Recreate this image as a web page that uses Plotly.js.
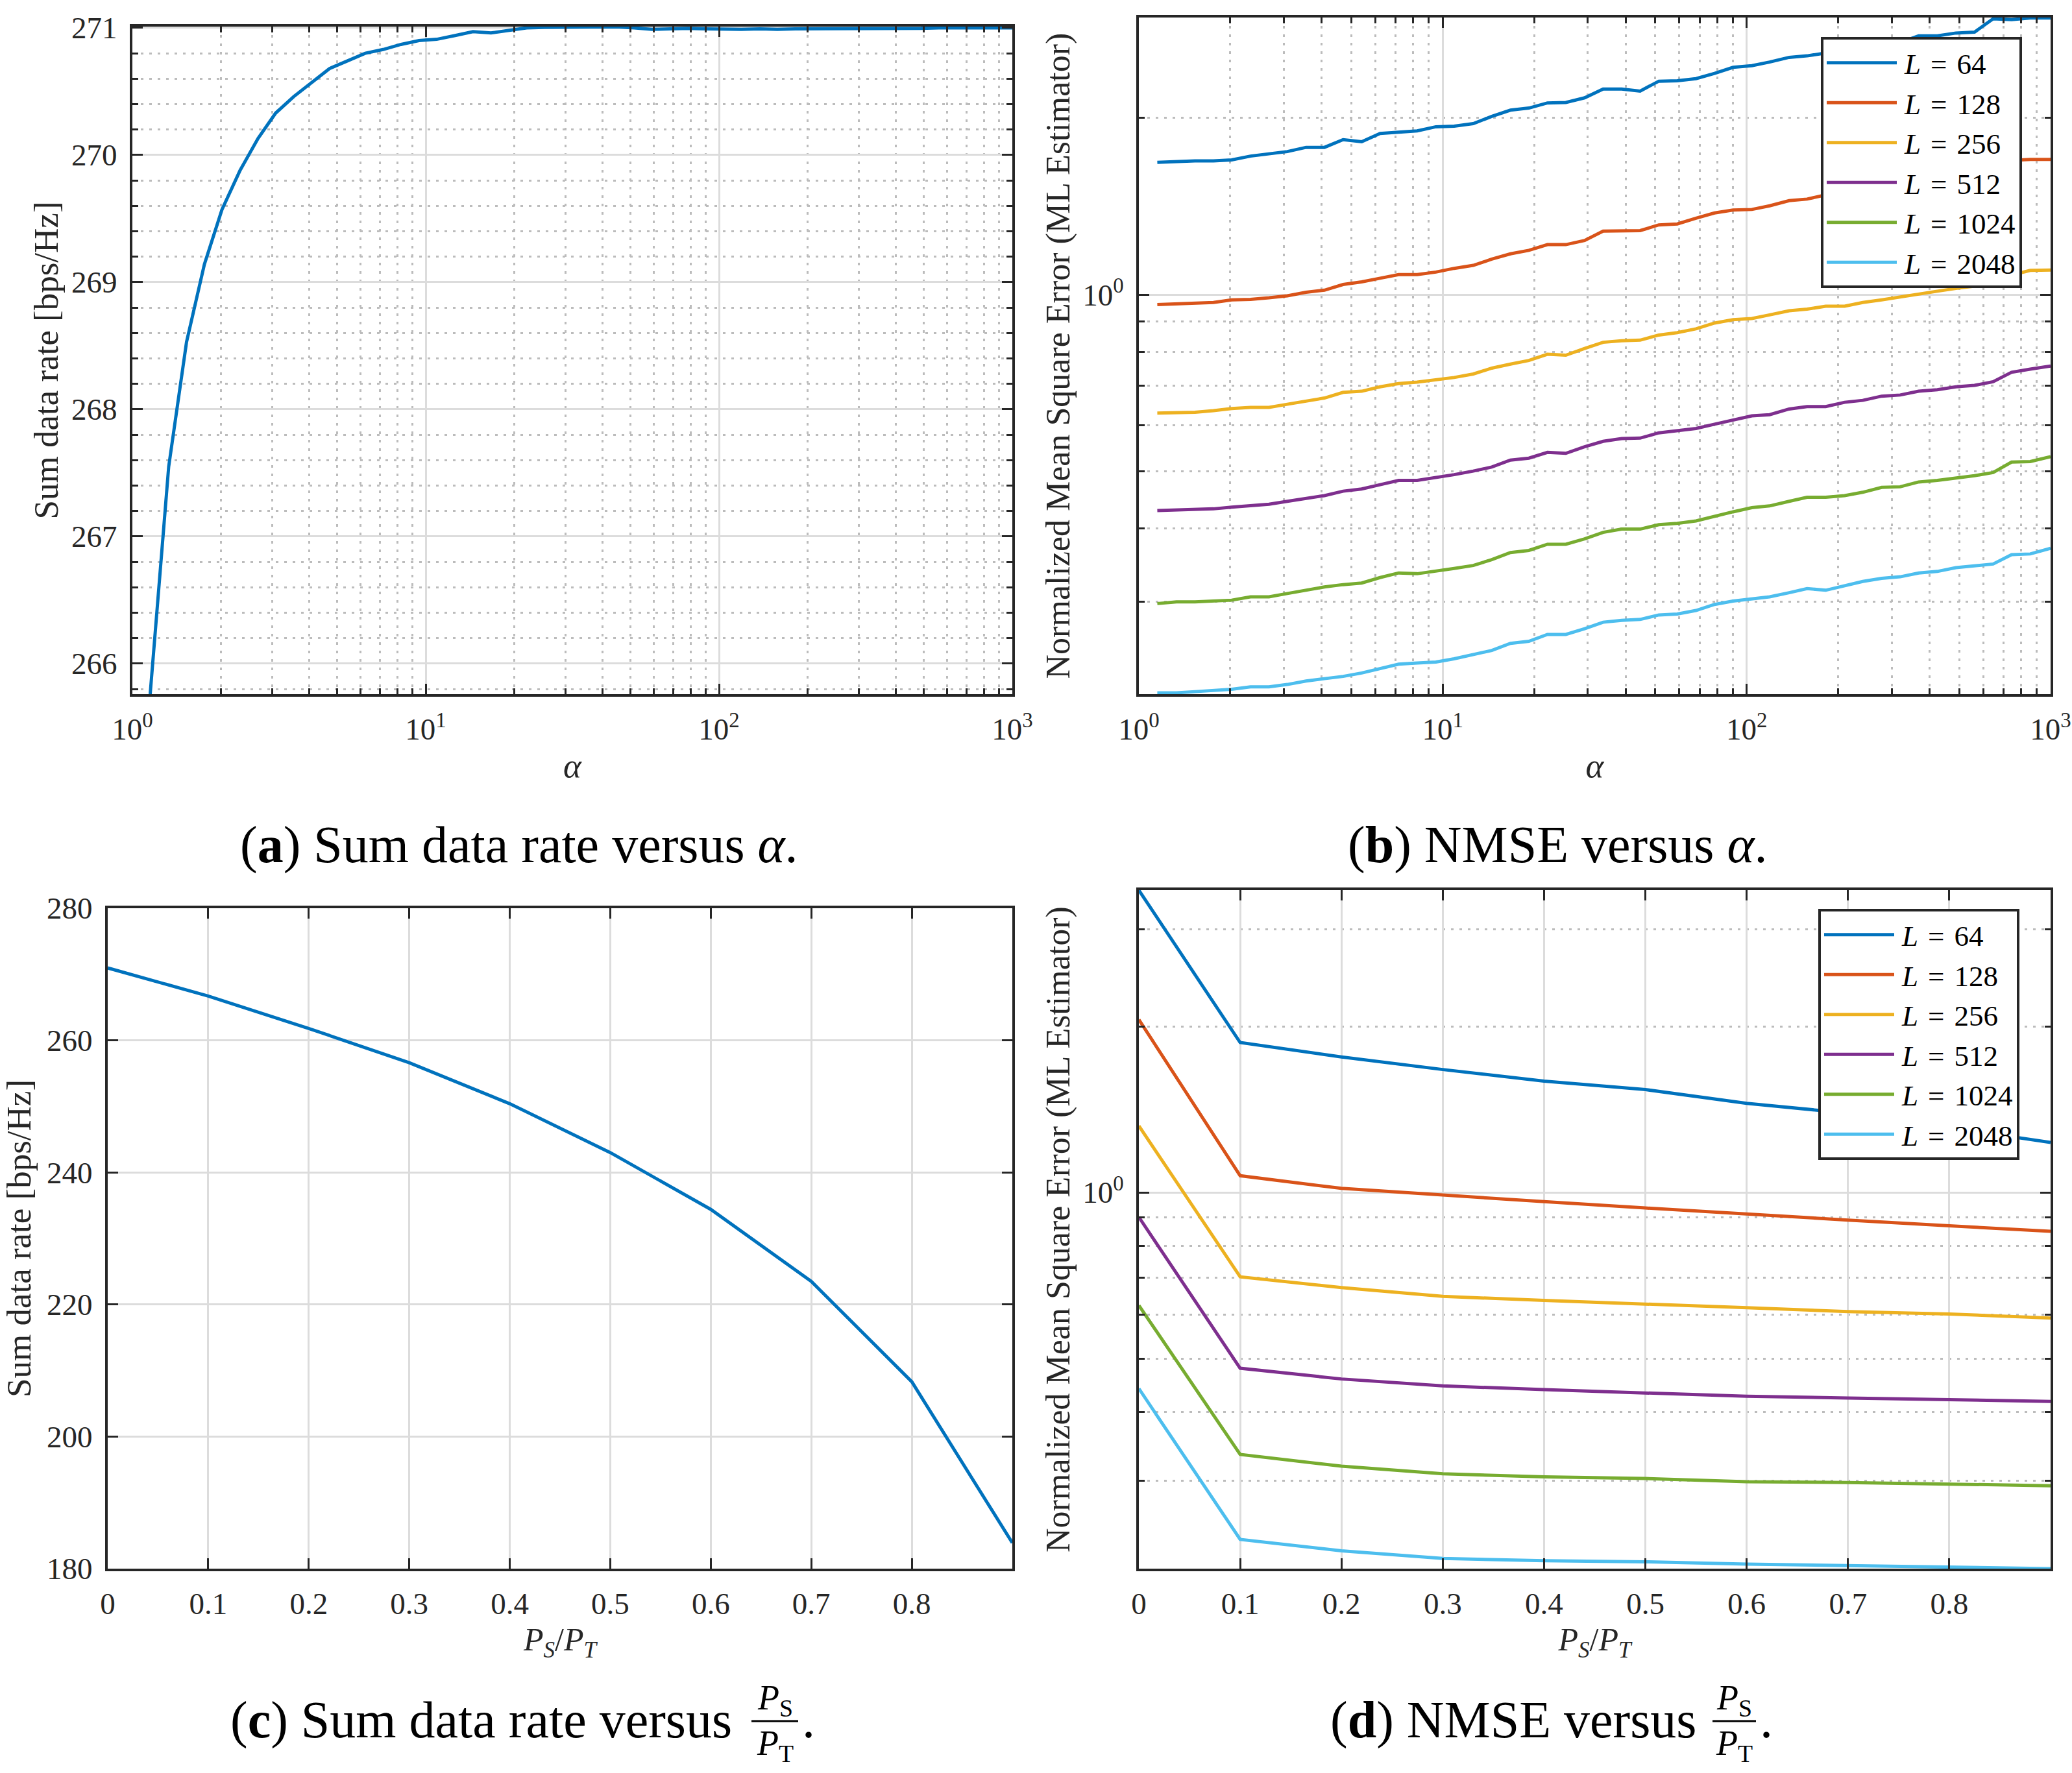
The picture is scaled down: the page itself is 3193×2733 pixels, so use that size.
<html>
<head>
<meta charset="utf-8">
<script src="https://cdn.plot.ly/plotly-3.0.1.min.js"></script>
<style>
    body { margin: 0; background: #fff; }
    #fig { width: 3193px; height: 2733px; }
</style>
</head>
<body>
<div id="fig"></div>
<script>
// ---- data ----
// (a) and (b): x = alpha (log axis)
var alpha = [1.15, 1.33, 1.53, 1.76, 2.02, 2.33, 2.68, 3.08, 3.55, 4.08,
             4.70, 5.41, 6.22, 7.16, 8.24, 9.49, 10.9, 12.6, 14.5, 16.7,
             19.2, 22.1, 25.4, 29.3, 33.7, 38.8, 44.6, 51.4, 59.1, 68.1,
             78.4, 90.2, 104, 119, 138, 158, 182, 210, 241, 278,
             320, 368, 424, 488, 562, 647, 744, 857, 1000];

var rateAlpha = [265.76, 267.55, 268.53, 269.14, 269.57, 269.88, 270.13, 270.33, 270.46, 270.57,
                 270.68, 270.74, 270.80, 270.83, 270.87, 270.90, 270.91, 270.94, 270.97, 270.96,
                 270.98, 271.00, 271.004, 271.004, 271.004, 271.008, 271.008, 271.00, 270.988, 270.992,
                 270.996, 270.992, 270.988, 270.988, 270.992, 270.988, 270.992, 270.992, 270.992, 270.992,
                 270.996, 270.996, 270.992, 270.996, 271.00, 271.00, 271.00, 271.00, 271.00];

var nmseA64 = [1.680, 1.687, 1.690, 1.690, 1.697, 1.722, 1.739, 1.753, 1.782, 1.782,
               1.837, 1.822, 1.882, 1.890, 1.901, 1.932, 1.936, 1.956, 2.012, 2.062,
               2.079, 2.121, 2.125, 2.164, 2.240, 2.240, 2.222, 2.310, 2.314, 2.333,
               2.381, 2.439, 2.455, 2.490, 2.536, 2.551, 2.58, 2.60, 2.64, 2.66,
               2.69, 2.76, 2.76, 2.79, 2.80, 2.95, 2.94, 2.96, 2.96];
var nmseA128 = [0.962, 0.964, 0.966, 0.970, 0.980, 0.982, 0.988, 0.996, 1.010, 1.018,
                1.041, 1.052, 1.067, 1.082, 1.082, 1.093, 1.109, 1.122, 1.150, 1.174,
                1.190, 1.217, 1.217, 1.237, 1.283, 1.286, 1.286, 1.315, 1.320, 1.350,
                1.378, 1.394, 1.397, 1.417, 1.446, 1.455, 1.479, 1.509, 1.524, 1.556,
                1.571, 1.594, 1.604, 1.620, 1.637, 1.687, 1.694, 1.700, 1.700];
var nmseA256 = [0.629, 0.630, 0.631, 0.635, 0.640, 0.643, 0.643, 0.651, 0.659, 0.667,
                0.682, 0.685, 0.697, 0.706, 0.710, 0.717, 0.723, 0.733, 0.750, 0.762,
                0.773, 0.792, 0.789, 0.810, 0.830, 0.835, 0.837, 0.854, 0.862, 0.875,
                0.895, 0.907, 0.911, 0.924, 0.939, 0.945, 0.956, 0.956, 0.970, 0.980,
                0.992, 1.002, 1.014, 1.025, 1.035, 1.044, 1.080, 1.100, 1.102];
var nmseA512 = [0.429, 0.430, 0.431, 0.432, 0.435, 0.438, 0.440, 0.445, 0.450, 0.455,
                0.463, 0.467, 0.475, 0.483, 0.483, 0.488, 0.494, 0.501, 0.509, 0.523,
                0.527, 0.539, 0.537, 0.551, 0.563, 0.569, 0.570, 0.582, 0.587, 0.592,
                0.602, 0.612, 0.622, 0.625, 0.639, 0.645, 0.645, 0.656, 0.661, 0.672,
                0.675, 0.685, 0.689, 0.697, 0.701, 0.711, 0.738, 0.747, 0.756];
var nmseA1024 = [0.298, 0.300, 0.300, 0.301, 0.302, 0.306, 0.306, 0.310, 0.314, 0.318,
                 0.321, 0.323, 0.330, 0.336, 0.335, 0.338, 0.342, 0.346, 0.354, 0.364,
                 0.367, 0.376, 0.376, 0.384, 0.394, 0.399, 0.399, 0.406, 0.408, 0.412,
                 0.420, 0.427, 0.434, 0.437, 0.445, 0.452, 0.452, 0.455, 0.461, 0.470,
                 0.471, 0.480, 0.483, 0.487, 0.492, 0.498, 0.519, 0.520, 0.530];
var nmseA2048 = [0.210, 0.210, 0.211, 0.212, 0.213, 0.215, 0.215, 0.217, 0.220, 0.222,
                 0.224, 0.227, 0.231, 0.235, 0.236, 0.237, 0.240, 0.244, 0.248, 0.255,
                 0.257, 0.264, 0.264, 0.270, 0.277, 0.279, 0.280, 0.285, 0.286, 0.290,
                 0.297, 0.301, 0.304, 0.306, 0.311, 0.316, 0.314, 0.320, 0.325, 0.329,
                 0.331, 0.336, 0.338, 0.343, 0.346, 0.348, 0.361, 0.362, 0.370];

// (c) and (d): x = P_S / P_T
var ratio = [0, 0.1, 0.2, 0.3, 0.4, 0.5, 0.6, 0.7, 0.8, 0.9];
var rateRatio = [270.96, 266.7, 261.8, 256.6, 250.4, 243.0, 234.4, 223.5, 208.3, 183.9];
var nmseR64 = [3.53, 1.869, 1.760, 1.670, 1.591, 1.536, 1.450, 1.392, 1.311, 1.232];
var nmseR128 = [2.057, 1.072, 1.017, 0.988, 0.962, 0.937, 0.913, 0.891, 0.870, 0.850];
var nmseR256 = [1.320, 0.703, 0.672, 0.648, 0.637, 0.628, 0.618, 0.608, 0.602, 0.592];
var nmseR512 = [0.902, 0.480, 0.459, 0.446, 0.439, 0.433, 0.427, 0.424, 0.421, 0.418];
var nmseR1024 = [0.624, 0.335, 0.319, 0.309, 0.305, 0.303, 0.299, 0.298, 0.296, 0.294];
var nmseR2048 = [0.441, 0.235, 0.224, 0.217, 0.215, 0.214, 0.212, 0.2106, 0.2096, 0.208];

var pilotL = [64, 128, 256, 512, 1024, 2048];

// ticks
var alphaTicks = [1, 10, 100, 1000];
var alphaTickText = ['10<sup>0</sup>', '10<sup>1</sup>', '10<sup>2</sup>', '10<sup>3</sup>'];
var alphaMinor = [2, 3, 4, 5, 6, 7, 8, 9, 20, 30, 40, 50, 60, 70, 80, 90, 200, 300, 400, 500, 600, 700, 800, 900];
var rateAlphaTicks = [266, 267, 268, 269, 270, 271];
var nmseTicks = [1];
var nmseTickText = ['10<sup>0</sup>'];
var nmseMinor = [0.3, 0.4, 0.5, 0.6, 0.7, 0.8, 0.9, 2, 3];
var ratioTicks = [0, 0.1, 0.2, 0.3, 0.4, 0.5, 0.6, 0.7, 0.8];
var rateRatioTicks = [180, 200, 220, 240, 260, 280];

// ---- style ----
var W = 3193, H = 2733;
function px(x) { return x / W; }
function py(y) { return 1 - y / H; }

var FONT = '"Liberation Serif", serif';
var INK = '#262626';
var colors = ['#0072BD', '#D95319', '#EDB120', '#7E2F8E', '#77AC30', '#4DBEEE'];

function axis(o) {
    var a = {
        showline: true, linecolor: INK, linewidth: 4, mirror: 'allticks',
        ticks: 'inside', ticklen: 16, tickwidth: 3, tickcolor: INK,
        tickfont: {family: FONT, size: 47, color: INK},
        ticklabelstandoff: 10,
        showgrid: true, gridcolor: '#dcdcdc', gridwidth: 3, zeroline: false
    };
    for (var k in o) a[k] = o[k];
    return a;
}
function minor(o) {
    var m = {showgrid: true, gridcolor: '#bcbcbc', gridwidth: 3, griddash: '4px,9px',
             ticks: 'inside', ticklen: 9, tickwidth: 3, tickcolor: INK};
    for (var k in o) m[k] = o[k];
    return m;
}
function axTitle(text, standoff, size) {
    return {text: text, standoff: standoff, font: {family: FONT, size: size || 53, color: INK}};
}

// ---- traces ----
var legendName = function (n) { return '<i>L</i>\u2004=\u2004' + n; };
var data = [];
data.push({x: alpha, y: rateAlpha, xaxis: 'x', yaxis: 'y', mode: 'lines',
           line: {color: colors[0], width: 5}, showlegend: false});
[nmseA64, nmseA128, nmseA256, nmseA512, nmseA1024, nmseA2048].forEach(function (s, i) {
    data.push({x: alpha, y: s, xaxis: 'x2', yaxis: 'y2', mode: 'lines', legend: 'legend',
               name: legendName(pilotL[i]), line: {color: colors[i], width: 5}});
});
data.push({x: ratio, y: rateRatio, xaxis: 'x3', yaxis: 'y3', mode: 'lines',
           line: {color: colors[0], width: 5}, showlegend: false});
[nmseR64, nmseR128, nmseR256, nmseR512, nmseR1024, nmseR2048].forEach(function (s, i) {
    data.push({x: ratio, y: s, xaxis: 'x4', yaxis: 'y4', mode: 'lines', legend: 'legend2',
               name: legendName(pilotL[i]), line: {color: colors[i], width: 5}});
});

var legendStyle = function (x, y) {
    return {x: px(x), y: py(y), xanchor: 'right', yanchor: 'top', bgcolor: '#fff',
            bordercolor: INK, borderwidth: 4, tracegroupgap: 0, itemwidth: 115,
            font: {family: FONT, size: 45, color: '#000'}};
};

var capFont = {family: FONT, size: 80, color: '#000'};
var fracFont = {family: FONT, size: 54, color: '#000'};
function note(text, x, y, xanchor, font) {
    return {text: text, xref: 'paper', yref: 'paper', x: px(x), y: py(y),
            xanchor: xanchor, yanchor: 'middle', showarrow: false, font: font};
}
function bar(x0, x1, y) {
    return {type: 'line', xref: 'paper', yref: 'paper', x0: px(x0), x1: px(x1),
            y0: py(y), y1: py(y), line: {color: '#000', width: 3}};
}

var layout = {
    width: W, height: H,
    margin: {l: 0, r: 0, t: 0, b: 0},
    paper_bgcolor: '#fff', plot_bgcolor: '#fff',
    font: {family: FONT, color: INK},
    xaxis: axis({domain: [px(204), px(1560)], anchor: 'y', type: 'log', range: [0, 3],
                 tickmode: 'array', tickvals: alphaTicks, ticktext: alphaTickText,
                 minor: minor({tickmode: 'array', tickvals: alphaMinor}),
                 title: axTitle('<i>α</i>', 12)}),
    yaxis: axis({domain: [py(1070), py(41)], anchor: 'x', range: [265.76, 271.01],
                 tickmode: 'array', tickvals: rateAlphaTicks,
                 minor: minor({tickmode: 'linear', tick0: 266, dtick: 0.2}),
                 title: axTitle('Sum data rate [bps/Hz]', 5)}),
    xaxis2: axis({domain: [px(1755), px(3160)], anchor: 'y2', type: 'log', range: [0, 3],
                  tickmode: 'array', tickvals: alphaTicks, ticktext: alphaTickText,
                  minor: minor({tickmode: 'array', tickvals: alphaMinor}),
                  title: axTitle('<i>α</i>', 12)}),
    yaxis2: axis({domain: [py(1070), py(27)], anchor: 'x2', type: 'log', range: [-0.68, 0.472],
                  tickmode: 'array', tickvals: nmseTicks, ticktext: nmseTickText,
                  minor: minor({tickmode: 'array', tickvals: nmseMinor}),
                  title: axTitle('Normalized Mean Square Error (ML Estimator)', 4, 52)}),
    xaxis3: axis({domain: [px(166), px(1560)], anchor: 'y3', range: [0, 0.9],
                  tickmode: 'array', tickvals: ratioTicks,
                  title: axTitle('<i>P</i><sub><i>S</i></sub>/<i>P</i><sub><i>T</i></sub>', 13, 50)}),
    yaxis3: axis({domain: [py(2418), py(1400)], anchor: 'x3', range: [180, 280],
                  tickmode: 'array', tickvals: rateRatioTicks,
                  title: axTitle('Sum data rate [bps/Hz]', 12)}),
    xaxis4: axis({domain: [px(1755), px(3160)], anchor: 'y4', range: [0, 0.9],
                  tickmode: 'array', tickvals: ratioTicks,
                  title: axTitle('<i>P</i><sub><i>S</i></sub>/<i>P</i><sub><i>T</i></sub>', 13, 50)}),
    yaxis4: axis({domain: [py(2418), py(1372)], anchor: 'x4', type: 'log', range: [-0.682, 0.548],
                  tickmode: 'array', tickvals: nmseTicks, ticktext: nmseTickText,
                  minor: minor({tickmode: 'array', tickvals: nmseMinor}),
                  title: axTitle('Normalized Mean Square Error (ML Estimator)', 4, 52)}),
    legend: legendStyle(3116, 57),
    legend2: legendStyle(3112, 1401),
    annotations: [
        note('(<b>a</b>) Sum data rate versus <i>α</i>.', 800, 1302, 'center', capFont),
        note('(<b>b</b>) NMSE versus <i>α</i>.', 2400, 1302, 'center', capFont),
        note('(<b>c</b>) Sum data rate versus', 1130, 2651, 'right', capFont),
        note('<i>P</i><sub>S</sub>', 1194, 2620, 'center', fracFont),
        note('<i>P</i><sub>T</sub>', 1194, 2690, 'center', fracFont),
        note('.', 1234, 2651, 'left', capFont),
        note('(<b>d</b>) NMSE versus', 2616, 2651, 'right', capFont),
        note('<i>P</i><sub>S</sub>', 2672, 2620, 'center', fracFont),
        note('<i>P</i><sub>T</sub>', 2672, 2690, 'center', fracFont),
        note('.', 2710, 2651, 'left', capFont)
    ],
    shapes: [bar(1158, 1230, 2653), bar(2639, 2706, 2653)]
};

Plotly.newPlot('fig', data, layout, {displayModeBar: false}).then(function (gd) {
    // MATLAB draws long legend line samples; stretch plotly's short ones to fill itemwidth
    gd.querySelectorAll('.legendlines path').forEach(function (p) {
        p.setAttribute('d', 'M5,0h108');
    });
});
</script>
</body>
</html>
